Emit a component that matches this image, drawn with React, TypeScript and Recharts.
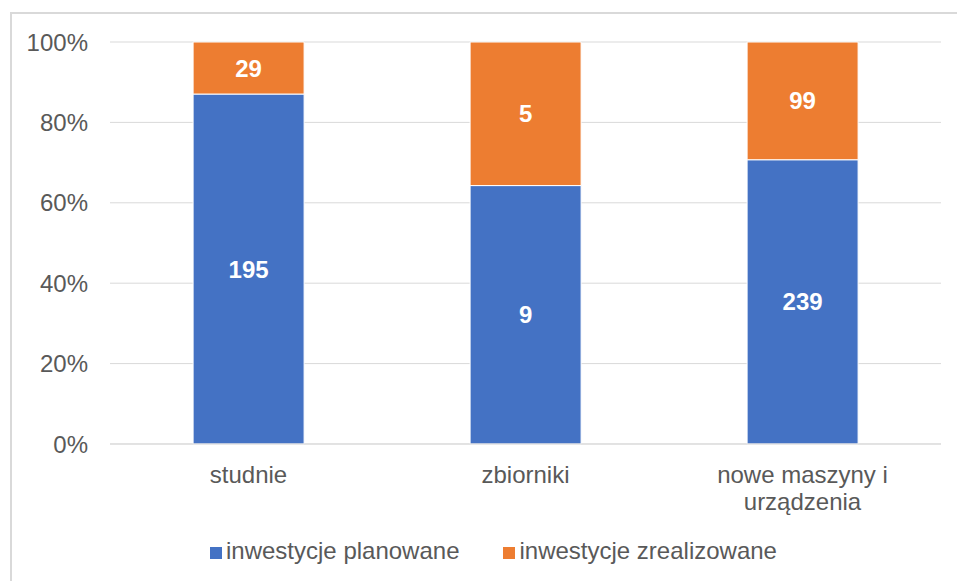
import { BarChart, Bar, XAxis, YAxis, CartesianGrid, Legend, LabelList } from 'recharts';

const categories = ['studnie', 'zbiorniki', 'nowe maszyny i urządzenia'];
const categoryLines = [['studnie'], ['zbiorniki'], ['nowe maszyny i', 'urządzenia']];
const planowane = [195, 9, 239];
const zrealizowane = [29, 5, 99];
const yTicks = [0, 0.2, 0.4, 0.6, 0.8, 1];

const BLUE = '#4472C4';
const ORANGE = '#ED7D31';
const GRAY_TEXT = '#595959';
const GRID = '#D9D9D9';
const FONT = '"Liberation Sans", Arial, sans-serif';
const FS = 24;

const chartData = categories.map((name, i) => ({
    name,
    planowane: planowane[i],
    zrealizowane: zrealizowane[i],
}));

function CategoryTick(props: any) {
    const { x, y, payload } = props;
    const idx = categories.indexOf(payload.value);
    const lines = idx >= 0 ? categoryLines[idx] : [payload.value];
    return (
        <text x={x} y={y + 31} textAnchor="middle" fill={GRAY_TEXT} fontSize={FS} fontFamily={FONT}>
            {lines.map((line: string, i: number) => (
                <tspan key={i} x={x} dy={i === 0 ? 0 : 27}>{line}</tspan>
            ))}
        </text>
    );
}

export default function App() {
    return (
        <div style={{ position: 'absolute', left: 0, top: 0, width: 957, height: 581, overflow: 'hidden', background: '#fff' }}>
            <div style={{ position: 'absolute', left: 10, top: 12, width: 980, height: 600, border: `2px solid ${GRID}` }} />
            <div style={{ position: 'absolute', left: 0, top: 0 }}>
                <BarChart
                    width={957}
                    height={581}
                    data={chartData}
                    stackOffset="expand"
                    barCategoryGap="30%"
                    margin={{ top: 42, right: 16, left: 0, bottom: 0 }}
                    style={{ fontFamily: FONT }}
                >
                    <CartesianGrid vertical={false} stroke={GRID} strokeWidth={1} />
                    <XAxis
                        dataKey="name"
                        height={109}
                        axisLine={{ stroke: GRID }}
                        tickLine={false}
                        interval={0}
                        tick={<CategoryTick />}
                    />
                    <YAxis
                        width={110}
                        domain={[0, 1]}
                        ticks={yTicks}
                        axisLine={false}
                        tickLine={false}
                        tickSize={0}
                        tickMargin={22}
                        tickFormatter={(v: number) => `${Math.round(v * 100)}%`}
                        tick={{ fill: GRAY_TEXT, fontSize: FS, fontFamily: FONT }}
                    />
                    <Legend
                        verticalAlign="bottom"
                        iconType="square"
                        iconSize={12}
                        wrapperStyle={{ fontSize: FS, fontFamily: FONT, left: 210, width: 'auto', bottom: 16 }}
                        formatter={(value: string, _entry: any, index: number) => (
                            <span style={{ color: GRAY_TEXT, marginRight: index === 0 ? 34 : 0 }}>{value}</span>
                        )}
                    />
                    <Bar dataKey="planowane" name="inwestycje planowane" stackId="a" fill={BLUE} stroke="#fff" strokeWidth={1} isAnimationActive={false}>
                        <LabelList dataKey="planowane" position="center" fill="#fff" fontSize={FS} fontWeight="bold" fontFamily={FONT} />
                    </Bar>
                    <Bar dataKey="zrealizowane" name="inwestycje zrealizowane" stackId="a" fill={ORANGE} stroke="#fff" strokeWidth={1} isAnimationActive={false}>
                        <LabelList dataKey="zrealizowane" position="center" fill="#fff" fontSize={FS} fontWeight="bold" fontFamily={FONT} />
                    </Bar>
                </BarChart>
            </div>
        </div>
    );
}
